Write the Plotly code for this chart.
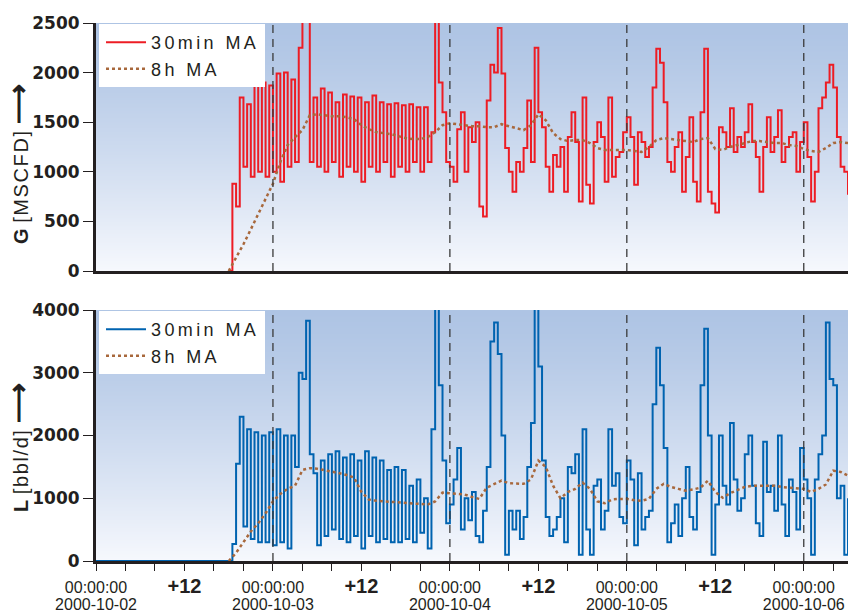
import base64
import struct
import zlib

import pandas as pd
import plotly.graph_objects as go

# ---------------- data ----------------
START_30MIN = "2000-10-02 18:00"   # first half-hourly sample
START_8H = "2000-10-02 18:00"      # first hourly sample of the 8h MA
L_LEAD_TIME = "2000-10-02 00:00"   # L is logged as zero from the start of the day
L_LEAD_VALUE = 0

G_30MIN = [
    0, 880, 650, 1750, 1050, 1680, 950, 1950, 1000, 1900,
    950, 1870, 1000, 1990, 900, 2000, 1050, 1930, 1100, 2250,
    2700, 2650, 1100, 1750, 1050, 1840, 1000, 1800, 1100, 1700,
    950, 1780, 1050, 1760, 1000, 1750, 900, 1700, 1050, 1770,
    1000, 1700, 1100, 1680, 950, 1690, 1050, 1670, 1000, 1680,
    1100, 1650, 1000, 1650, 1100, 1400, 2550, 1900, 1600, 1100,
    1050, 900, 1430, 1600, 1000, 1450, 1300, 1500, 650, 550,
    1720, 2080, 2000, 2450, 1990, 1240, 1000, 800, 1100, 1000,
    1240, 1720, 1100, 2250, 1600, 1450, 1050, 800, 1170, 1050,
    1250, 800, 1350, 1600, 1300, 700, 1750, 870, 680, 1300,
    1500, 1350, 900, 1750, 950, 1150, 1200, 1400, 1550, 1350,
    870, 1400, 1300, 1150, 1250, 1850, 2240, 2100, 1700, 1100,
    1000, 1250, 1400, 800, 1150, 1550, 900, 700, 1600, 2240,
    800, 680, 590, 1450, 1400, 1250, 1640, 1200, 1350, 1250,
    1400, 1680, 1300, 1150, 800, 1250, 1550, 1200, 1350, 1620,
    1100, 1250, 1350, 1400, 1000, 1300, 1500, 1150, 700, 1000,
    1640, 1750, 1900, 2080, 1850, 1350, 1050, 1000, 770,
]

G_8H = [
    0, 130, 270, 420, 570, 720, 880, 1100, 1270, 1350,
    1420, 1570, 1580, 1570, 1560, 1560, 1550, 1530, 1470, 1430,
    1400, 1390, 1380, 1360, 1340, 1330, 1330, 1350, 1400, 1470,
    1490, 1480, 1470, 1460, 1460, 1450, 1450, 1480, 1460, 1440,
    1420, 1470, 1580, 1520, 1390, 1330, 1310, 1320, 1320, 1290,
    1240, 1220, 1220, 1220, 1220, 1210, 1200, 1250, 1320, 1340,
    1330, 1320, 1310, 1300, 1330, 1340, 1230, 1220, 1250, 1270,
    1290, 1310, 1310, 1300, 1290, 1290, 1270, 1260, 1230, 1210,
    1200, 1240, 1290, 1300, 1290,
]

L_30MIN = [
    0, 270, 1550, 2300, 550, 2100, 350, 2050, 300, 2000,
    300, 2050, 250, 2100, 300, 2000, 200, 2000, 1500, 3000,
    2900, 3830, 1700, 1400, 250, 1600, 400, 1700, 500, 1750,
    350, 1650, 300, 1700, 400, 1600, 200, 1750, 400, 1650,
    300, 1600, 350, 1450, 300, 1500, 300, 1450, 350, 1200,
    300, 1300, 450, 1000, 200, 2100, 4100, 2800, 1600, 600,
    900, 1300, 1800, 500, 1000, 650, 1100, 400, 300, 800,
    1500, 3500, 3800, 3300, 2000, 100, 800, 500, 800, 350,
    700, 1500, 2200, 4100, 3100, 1600, 700, 400, 500, 700,
    1000, 300, 1500, 1400, 1700, 100, 2100, 500, 100, 1200,
    1300, 500, 800, 2100, 1200, 1400, 700, 600, 1600, 1300,
    250, 1400, 500, 700, 800, 2500, 3400, 2800, 1800, 300,
    600, 900, 400, 1000, 1500, 700, 500, 1100, 2800, 3700,
    2000, 100, 900, 2000, 1200, 900, 2200, 1300, 800, 1000,
    1700, 2000, 1200, 600, 400, 1900, 1100, 1200, 800, 2000,
    900, 400, 1300, 1100, 500, 1800, 1300, 1000, 100, 1300,
    1700, 2000, 3800, 2900, 2800, 1000, 1200, 100, 1000,
]

L_8H = [
    0, 130, 300, 470, 600, 760, 950, 1070, 1150, 1200,
    1450, 1480, 1470, 1450, 1430, 1400, 1370, 1330, 1100, 980,
    960, 950, 950, 940, 930, 920, 900, 900, 950, 1090,
    1080, 1070, 1060, 1020, 990, 1170, 1220, 1280, 1240, 1230,
    1230, 1300, 1600, 1500, 1200, 1000, 1100, 1150, 1250, 1150,
    950, 920, 980, 990, 990, 970, 960, 990, 1150, 1230,
    1180, 1150, 1120, 1140, 1170, 1280, 1100, 1010, 1080, 1130,
    1180, 1200, 1200, 1200, 1200, 1180, 1170, 1160, 1150, 1100,
    1150, 1220, 1440, 1420, 1360,
]

DAY_LABELS = ["2000-10-02", "2000-10-03", "2000-10-04", "2000-10-05", "2000-10-06"]
MIDNIGHT_LABEL = "00:00:00"
NOON_LABEL = "+12"
SERIES_NAMES = ["30min MA", "8h MA"]
G_TITLE = ("G", "[MSCFD]")
L_TITLE = ("L", "[bbl/d]")
X_START = "2000-10-02 00:00"
X_END = "2000-10-06 06:00"
G_RANGE = [0, 2500]
L_RANGE = [0, 4000]

# ---------------- derived time axes ----------------
t30 = pd.date_range(START_30MIN, periods=len(G_30MIN), freq="30min")
t8 = pd.date_range(START_8H, periods=len(G_8H), freq="1h")
l_times = [pd.Timestamp(L_LEAD_TIME)] + list(t30)
l_vals = [L_LEAD_VALUE] + L_30MIN

tickvals = pd.date_range(X_START, "2000-10-06 04:00", freq="4h")
ticktext = []
for tv in tickvals:
    if tv.hour == 0:
        ticktext.append(
            "<span style='font-size:16px'>%s</span><br><span style='font-size:16px'>%s</span>"
            % (MIDNIGHT_LABEL, DAY_LABELS[(tv - pd.Timestamp(X_START)).days]))
    elif tv.hour == 12:
        ticktext.append("<span style='font-size:20px'><b>%s</b></span>" % NOON_LABEL)
    else:
        ticktext.append("")
midnights = [tv for tv in tickvals if tv.hour == 0][1:]

# ---------------- styling ----------------
RED = "#ED1C24"
BLUE = "#0063B0"
BROWN = "#A8683C"
INK = "#231F20"
TOP_DOM = [0.539, 1.0]
BOT_DOM = [0.0, 0.4665]


def gradient_png(top, bottom, n=240):
    raw = b""
    for k in range(n):
        t = (k / (n - 1)) ** 1.25
        c = bytes(int(round(top[j] + (bottom[j] - top[j]) * t)) for j in range(3))
        raw += b"\x00" + c

    def chunk(tag, data):
        return (struct.pack(">I", len(data)) + tag + data
                + struct.pack(">I", zlib.crc32(tag + data) & 0xFFFFFFFF))

    png = b"\x89PNG\r\n\x1a\n"
    png += chunk(b"IHDR", struct.pack(">IIBBBBB", 1, n, 8, 2, 0, 0, 0))
    png += chunk(b"IDAT", zlib.compress(raw, 9))
    png += chunk(b"IEND", b"")
    return "data:image/png;base64," + base64.b64encode(png).decode()


GRAD = gradient_png((174, 196, 228), (246, 248, 253))


def legend_name(s):
    return "<span style='letter-spacing:3.4px'>%s</span>" % s


fig = go.Figure()
fig.add_trace(go.Scatter(x=t30, y=G_30MIN, mode="lines", name=legend_name(SERIES_NAMES[0]),
                         line=dict(color=RED, width=2, shape="hv"), xaxis="x", yaxis="y",
                         legend="legend"))
fig.add_trace(go.Scatter(x=t8, y=G_8H, mode="lines", name=legend_name(SERIES_NAMES[1]),
                         line=dict(color=BROWN, width=2.5, dash="dot"), xaxis="x", yaxis="y",
                         legend="legend"))
fig.add_trace(go.Scatter(x=l_times, y=l_vals, mode="lines", name=legend_name(SERIES_NAMES[0]),
                         line=dict(color=BLUE, width=2, shape="hv"), xaxis="x2", yaxis="y2",
                         legend="legend2"))
fig.add_trace(go.Scatter(x=t8, y=L_8H, mode="lines", name=legend_name(SERIES_NAMES[1]),
                         line=dict(color=BROWN, width=2.5, dash="dot"), xaxis="x2", yaxis="y2",
                         legend="legend2"))

shapes = []
for m in midnights:
    for yr in ("y domain", "y2 domain"):
        shapes.append(dict(type="line", xref="x" if yr == "y domain" else "x2", yref=yr,
                           x0=m, x1=m, y0=0, y1=1, layer="above",
                           line=dict(color="#3A3A3A", width=1.3, dash="8px,6px")))

images = [
    dict(source=GRAD, xref="paper", yref="paper", x=0, y=TOP_DOM[1], sizex=1,
         sizey=TOP_DOM[1] - TOP_DOM[0], sizing="stretch", layer="below",
         xanchor="left", yanchor="top"),
    dict(source=GRAD, xref="paper", yref="paper", x=0, y=BOT_DOM[1], sizex=1,
         sizey=BOT_DOM[1] - BOT_DOM[0], sizing="stretch", layer="below",
         xanchor="left", yanchor="top"),
]

ytick_font = dict(family="DejaVu Sans", size=17, color=INK, weight="bold")
common_y = dict(showgrid=False, zeroline=False, showline=True, linewidth=3, linecolor=INK,
                ticks="outside", ticklen=10, tickwidth=1.2, tickcolor=INK, tickfont=ytick_font,
                automargin=False)
legend_common = dict(bgcolor="white", borderwidth=0, xanchor="left", yanchor="top",
                     font=dict(family="Liberation Sans", size=18, color=INK),
                     itemwidth=40, indentation=2, tracegroupgap=0)


def title_text(sym, unit):
    return ("<b>%s</b> <span style='letter-spacing:1.6px'>%s</span> "
            "<span style='font-size:28px'><b>\u27f6</b></span>" % (sym, unit))


fig.update_layout(
    width=848, height=613,
    margin=dict(l=96, r=0, t=23, b=52, autoexpand=False),
    paper_bgcolor="white", plot_bgcolor="rgba(0,0,0,0)",
    showlegend=True,
    xaxis=dict(domain=[0, 1], anchor="y", range=[X_START, X_END], showgrid=False,
               zeroline=False, showline=True, linewidth=3, linecolor=INK, ticks="",
               showticklabels=False, automargin=False),
    yaxis=dict(domain=TOP_DOM, anchor="x", range=G_RANGE, tickvals=list(range(0, 2501, 500)),
               **common_y),
    xaxis2=dict(domain=[0, 1], anchor="y2", range=[X_START, X_END], matches="x",
                showgrid=False, zeroline=False, showline=True, linewidth=3, linecolor=INK,
                layer="below traces", automargin=False,
                tickmode="array", tickvals=list(tickvals), ticktext=ticktext,
                ticks="outside", ticklen=7, tickwidth=1.2, tickcolor=INK,
                tickfont=dict(family="Liberation Sans", size=13, color=INK),
                ticklabelstandoff=6, tickangle=0),
    yaxis2=dict(domain=BOT_DOM, anchor="x2", range=L_RANGE, tickvals=list(range(0, 4001, 1000)),
                **common_y),
    legend=dict(x=0.004, y=TOP_DOM[1] - 0.002, **legend_common),
    legend2=dict(x=0.004, y=BOT_DOM[1] - 0.002, **legend_common),
    shapes=shapes,
    images=images,
    annotations=[
        dict(text=title_text(*G_TITLE), xref="paper", yref="paper", x=-0.1024, y=0.738,
             xanchor="center", yanchor="middle", textangle=-90, showarrow=False,
             font=dict(family="Liberation Sans", size=20, color=INK)),
        dict(text=title_text(*L_TITLE), xref="paper", yref="paper", x=-0.1024, y=0.212,
             xanchor="center", yanchor="middle", textangle=-90, showarrow=False,
             font=dict(family="Liberation Sans", size=20, color=INK)),
    ],
)

fig.write_html("out.html", config={"displayModeBar": False},
               post_script="document.body.style.margin='0px';")
